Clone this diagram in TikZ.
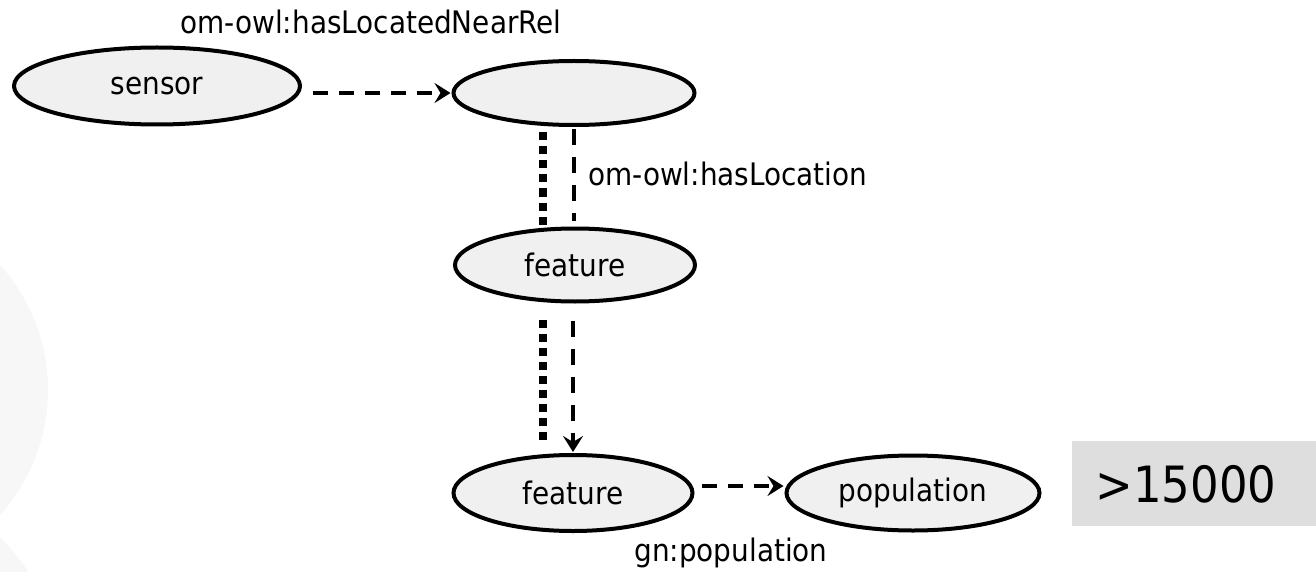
\documentclass[tikz,border=0pt]{standalone}
\usepackage{fontspec}
\setmainfont{DejaVu Sans Condensed}
\usetikzlibrary{shapes.geometric,arrows.meta}

\definecolor{nodefill}{HTML}{F0F0F0}
\definecolor{boxfill}{HTML}{DEDEDE}
\definecolor{wmgray}{HTML}{F7F7F7}

\tikzset{
  res/.style={ellipse, draw=black, line width=4pt, fill=nodefill,
    inner sep=0pt, font=\fontsize{31}{36}\selectfont},
  lbl/.style={font=\fontsize{31}{36}\selectfont, inner sep=0pt},
  tip/.style={-{Stealth[length=16pt,width=20pt,inset=6pt]}},
  dashline/.style={line width=4.5pt, dash pattern=on 16pt off 12pt},
  hdash/.style={line width=4.5pt, dash pattern=on 15pt off 11pt},
  dotline/.style={line width=8pt, dash pattern=on 8pt off 6pt}
}

\begin{document}
\begin{tikzpicture}[x=1pt, y=-1pt]
  \useasboundingbox (0,0) rectangle (1316,572);

  % faint background shapes at the left edge
  \fill[wmgray] (-139,390) circle (187);
  \fill[wmgray] (-140,680) circle (200);

  % resources
  \node[res, minimum width=286pt, minimum height=77pt] (sensor) at (157,86) {sensor};
  \node[res, minimum width=241pt, minimum height=64pt] (loc) at (574,93) {};
  \node[res, minimum width=240pt, minimum height=73pt] (feat1) at (575,265) {feature};
  \node[res, minimum width=239pt, minimum height=76pt] (feat2) at (573,493) {feature};
  \node[res, minimum width=253pt, minimum height=75pt] (pop) at (913,493) {population};

  % literal value
  \node[fill=boxfill, minimum width=244pt, minimum height=85pt, inner sep=0pt,
        anchor=north west] (val) at (1072,441) {};
  \node[font=\fontsize{50}{56}\selectfont, inner sep=0pt] (valtext) at (1186,484) {>15000};

  % property labels
  \node[lbl] (nearlbl) at (371,22) {om-owl:hasLocatedNearRel};
  \node[lbl, anchor=west] (loclbl) at (588,174) {om-owl:hasLocation};
  \node[lbl] (poplbl) at (731,553) {gn:population};

  % sensor -> location
  \draw[hdash, tip, shorten <=11pt, shorten >=1pt] (sensor.east |- loc.west) -- (loc.west);

  % location -> feature
  \draw[dashline, shorten <=2pt, shorten >=6pt] (loc.south) -- (loc.south |- feat1.north);
  \draw[dotline, shorten <=5.5pt, shorten >=2pt]
    ([xshift=-31pt]loc.south) -- ([xshift=-31pt]loc.south |- feat1.north);

  % feature -> feature
  \draw[dashline, tip, shorten <=17pt, shorten >=1pt]
    ([xshift=-2pt]feat1.south) -- ([xshift=-2pt]feat1.south |- feat2.north);
  \draw[dotline, shorten <=16.5pt, shorten >=13.5pt]
    ([xshift=-32pt]feat1.south) -- ([xshift=-32pt]feat1.south |- feat2.north);

  % feature -> population
  \draw[hdash, tip, shorten <=7pt, shorten >=1pt]
    ([yshift=7pt]feat2.east) -- ([yshift=7pt]feat2.east -| pop.west);
\end{tikzpicture}
\end{document}
